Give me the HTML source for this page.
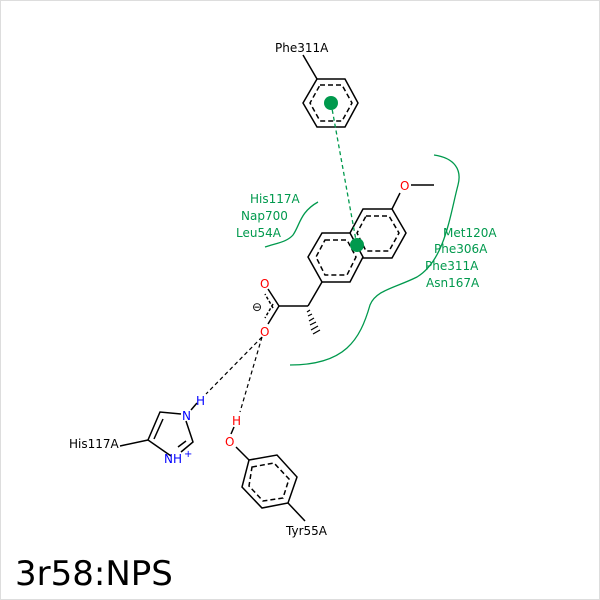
<!DOCTYPE html>
<html><head><style>body{margin:0;background:#fff}svg{display:block}text{font-family:"DejaVu Sans","Liberation Sans",sans-serif}</style></head><body>
<svg width="600" height="600" viewBox="0 0 600 600">
<rect x="0.5" y="0.5" width="599" height="599" fill="#fff" stroke="#ddd"/>
<g stroke="#000" stroke-width="1.5" fill="none">
<!-- Phe ring -->
<polygon points="317,79 345,79 358,103 345,127 317,127 303,103"/>
<polygon points="320,85 342,85 352,103 342,121 320,121 310,103" stroke-dasharray="5,3"/>
<line x1="303" y1="55" x2="317" y2="79"/>
<!-- naphthalene -->
<polygon points="322,233 350,233 363,257 350,282 322,282 308,257"/>
<polygon points="325,240 347,240 356,257 347,275 325,275 316,257" stroke-dasharray="5,3"/>
<polyline points="350,233 363,209 392,209 406,233 392,258 363,258"/>
<polygon points="366,216 389,216 399,233 389,251 366,251 357,233" stroke-dasharray="5,3"/>
<line x1="392" y1="209" x2="400" y2="193"/>
<line x1="411" y1="185" x2="434" y2="185"/>
<line x1="322" y1="282" x2="308" y2="306"/>
<line x1="308" y1="306" x2="279" y2="306"/>
<line x1="279" y1="306" x2="268" y2="289"/>
<line x1="279" y1="306" x2="268" y2="324"/>
<line x1="273" y1="308" x2="265" y2="294" stroke-dasharray="3,2"/>
<line x1="273" y1="304" x2="265" y2="318" stroke-dasharray="3,2"/>
<!-- His ring -->
<polyline points="181,414 160,412 148,440 171,456"/>
<line x1="163" y1="419" x2="154" y2="439"/>
<polyline points="186,421 193,442 181,452"/>
<line x1="186" y1="441" x2="178" y2="447"/>
<line x1="148" y1="440" x2="120" y2="446"/>
<line x1="191" y1="410" x2="197" y2="403"/>
<!-- Tyr -->
<polygon points="249,460 277,455 297,477 288,503 262,508 242,487"/>
<polygon points="252,467 274,463 289,479 283,498 263,501 249,486" stroke-dasharray="5,3"/>
<line x1="249" y1="460" x2="236" y2="447"/>
<line x1="231" y1="434" x2="234" y2="427"/>
<line x1="288" y1="503" x2="305" y2="521"/>
</g>
<g stroke="#000" stroke-width="1.2">
<line x1="310" y1="310" x2="307" y2="312"/><line x1="312" y1="314" x2="308" y2="316"/><line x1="314" y1="318" x2="309" y2="321"/><line x1="316" y1="322" x2="310" y2="325"/><line x1="318" y1="326" x2="311" y2="330"/><line x1="320" y1="330" x2="313" y2="334"/>
</g>
<!-- H-bonds -->
<g stroke="#000" stroke-width="1.2" stroke-dasharray="4,3" fill="none">
<line x1="262" y1="337" x2="206" y2="394"/>
<line x1="262" y1="337" x2="240" y2="412"/>
</g>
<!-- green -->
<g stroke="#00994d" fill="none" stroke-width="1.3">
<line x1="331" y1="103" x2="357" y2="246" stroke-dasharray="4,3"/>
<path d="M318,202 C300,212 300,225 293,235 C287,242 277,243 265,247"/>
<path d="M434,155 C455,158 462,170 458,185 C450,215 445,260 417,277 C395,288 376,290 370,305 C360,340 345,365 290,365"/>
</g>
<circle cx="331" cy="103" r="7" fill="#00994d"/>
<circle cx="357" cy="245" r="7" fill="#00994d"/>
<g font-size="12" fill="#00994d">
<text x="250" y="203">His117A</text>
<text x="241" y="220">Nap700</text>
<text x="236" y="237">Leu54A</text>
<text x="443" y="237">Met120A</text>
<text x="434" y="253">Phe306A</text>
<text x="425" y="270">Phe311A</text>
<text x="426" y="287">Asn167A</text>
</g>
<g font-size="12">
<text x="275" y="52" fill="#000">Phe311A</text>
<text x="69" y="448" fill="#000">His117A</text>
<text x="286" y="535" fill="#000">Tyr55A</text>
<text x="400" y="190" fill="#f00">O</text>
<text x="260" y="288" fill="#f00">O</text>
<text x="260" y="336" fill="#f00">O</text>
<text x="252" y="311" fill="#000">⊖</text>
<text x="225" y="446" fill="#f00">O</text>
<text x="232" y="425" fill="#f00">H</text>
<text x="182" y="420" fill="#00f">N</text>
<text x="196" y="405" fill="#00f">H</text>
<text x="164" y="463" fill="#00f">NH</text>
<text x="184" y="457" fill="#00f" font-size="10">+</text>
</g>
<text x="15" y="585" font-size="34" fill="#000">3r58:NPS</text>
</svg>
</body></html>
